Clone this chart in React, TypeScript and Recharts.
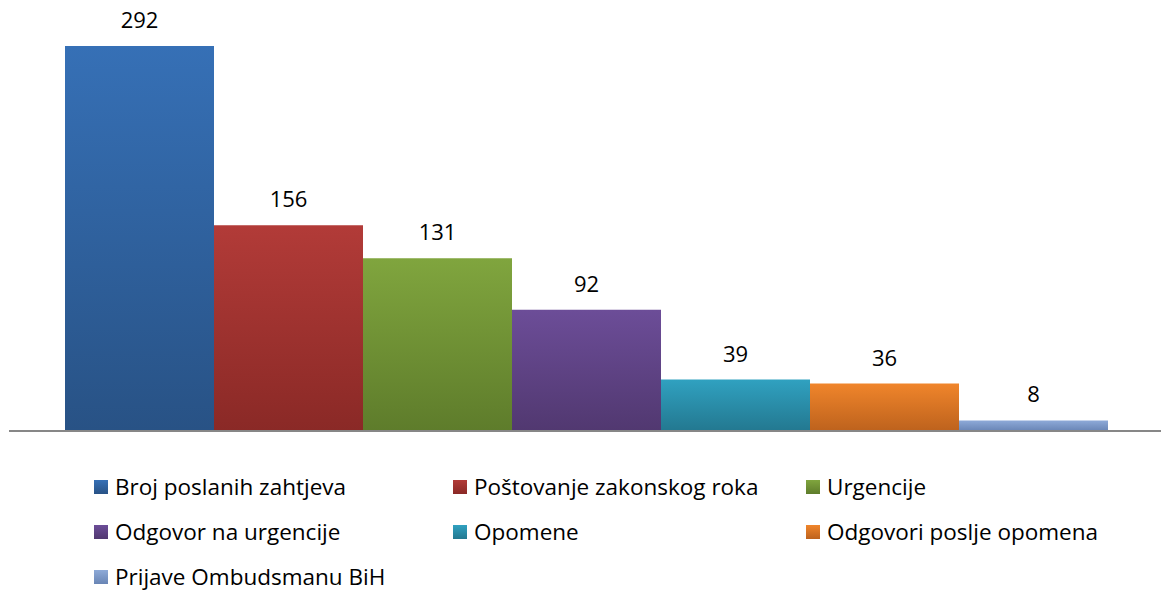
import { BarChart, Bar, XAxis, YAxis, LabelList } from 'recharts';

const seriesNames = [
  'Broj poslanih zahtjeva',
  'Poštovanje zakonskog roka',
  'Urgencije',
  'Odgovor na urgencije',
  'Opomene',
  'Odgovori poslje opomena',
  'Prijave Ombudsmanu BiH',
];
const seriesValues = [292, 156, 131, 92, 39, 36, 8];
const topColors = ['#3670b6', '#b23b38', '#80a53e', '#6c4d98', '#30a1c0', '#f0852b', '#8eaad8'];
const bottomColors = ['#285285', '#8a2926', '#5e7c2b', '#513870', '#237890', '#bd621d', '#6985b5'];

const row: Record<string, number | string> = { name: '' };
seriesNames.forEach((n, i) => {
  row[`s${i}`] = seriesValues[i];
});
const data = [row];

const FONT = '"Open Sans", sans-serif';

export default function App() {
  return (
    <div style={{ position: 'absolute', left: 0, top: 0, width: 1161, height: 591, background: '#fff', fontFamily: FONT }}>
      <div style={{ position: 'absolute', left: 9, top: 430, width: 8, height: 2, background: '#878787' }} />
      <BarChart
        width={1161}
        height={432}
        data={data}
        margin={{ top: 9, right: 0, left: 15, bottom: 0 }}
        barCategoryGap={50}
        barGap={0}
      >
        <defs>
          {topColors.map((c, i) => (
            <linearGradient key={i} id={`g${i}`} x1="0" y1="0" x2="0" y2="1">
              <stop offset="0%" stopColor={c} />
              <stop offset="100%" stopColor={bottomColors[i]} />
            </linearGradient>
          ))}
        </defs>
        <XAxis dataKey="name" height={1} tick={false} tickLine={false} axisLine={{ stroke: '#878787', strokeWidth: 2 }} />
        <YAxis hide domain={[0, 320]} />
        {seriesNames.map((n, i) => (
          <Bar key={n} dataKey={`s${i}`} name={n} fill={`url(#g${i})`} isAnimationActive={false}>
            <LabelList dataKey={`s${i}`} position="top" offset={18} fill="#000" fontSize={22} fontFamily={FONT} />
          </Bar>
        ))}
      </BarChart>
      <div
        style={{
          position: 'absolute',
          left: 94,
          top: 464,
          display: 'grid',
          gridTemplateColumns: '359px 353px 340px',
        }}
      >
        {seriesNames.map((n, i) => (
          <div key={n} style={{ display: 'flex', alignItems: 'center', height: 45, fontSize: 22.5, lineHeight: '26px', color: '#000', whiteSpace: 'nowrap' }}>
            <span
              style={{
                display: 'inline-block',
                width: 14,
                height: 14,
                marginRight: 7,
                background: `linear-gradient(${topColors[i]}, ${bottomColors[i]})`,
              }}
            />
            {n}
          </div>
        ))}
      </div>
    </div>
  );
}
